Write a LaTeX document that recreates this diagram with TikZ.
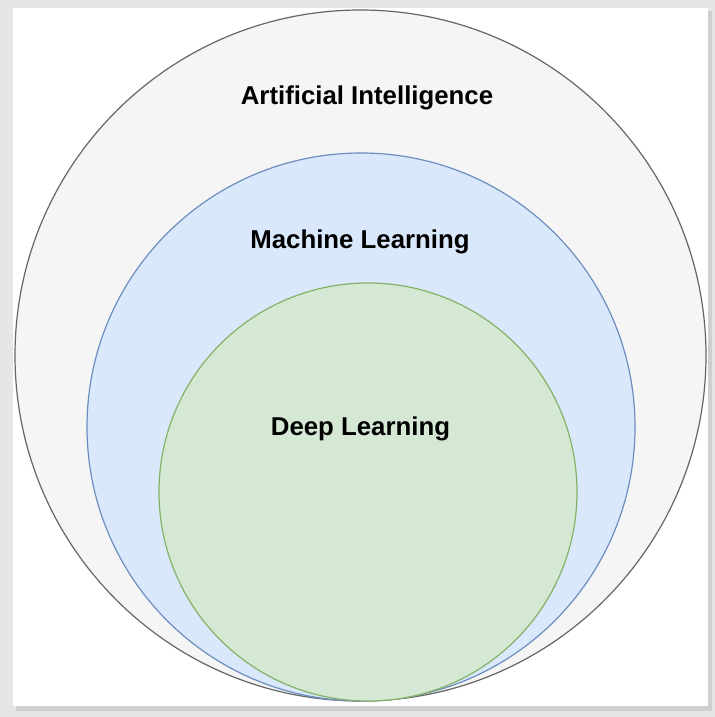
\documentclass[tikz,border=0pt]{standalone}
\usepackage{fontspec}
\setmainfont{Liberation Sans}
\usepackage{xcolor}
\usepackage{tikz}
\usetikzlibrary{shapes.geometric, positioning, calc, backgrounds}

\definecolor{aiFill}{HTML}{F5F5F5}
\definecolor{aiLine}{HTML}{666666}
\definecolor{mlFill}{HTML}{DAE8FC}
\definecolor{mlLine}{HTML}{6C8EBF}
\definecolor{dlFill}{HTML}{D5E8D4}
\definecolor{dlLine}{HTML}{82B366}
\definecolor{pageGray}{HTML}{E6E6E6}
\definecolor{shadowGray}{HTML}{CFCFCF}

\begin{document}
\begin{tikzpicture}[x=0.5pt, y=-0.5pt,
    setbox/.style={circle, draw, line width=0.6pt, inner sep=0pt},
    setlabel/.style={font=\fontsize{12.9}{15}\selectfont\bfseries, text=black}]
    \useasboundingbox (0,0) rectangle (715,717);
    % page and panel
    \fill[pageGray] (0,0) rectangle (715,717);
    \fill[shadowGray] (16,11) rectangle (712,711);
    \fill[white] (13,8) rectangle (708,706);

    % the three sets
    \node (AI) at (360.5,355.5) [setbox, minimum size=691*0.5pt, fill=aiFill, draw=aiLine] {};
    \node (ML) at (361,427) [setbox, minimum size=548*0.5pt, fill=mlFill, draw=mlLine] {};
    \node (DL) at (368,492) [setbox, minimum size=418*0.5pt, fill=dlFill, draw=dlLine] {};

    \node (AItext) at (367,97.5) [setlabel] {Artificial Intelligence};
    \node (MLtext) at (360,241.5) [setlabel] {Machine Learning};
    \node (DLtext) at (360.5,428.5) [setlabel] {Deep Learning};
\end{tikzpicture}
\end{document}
